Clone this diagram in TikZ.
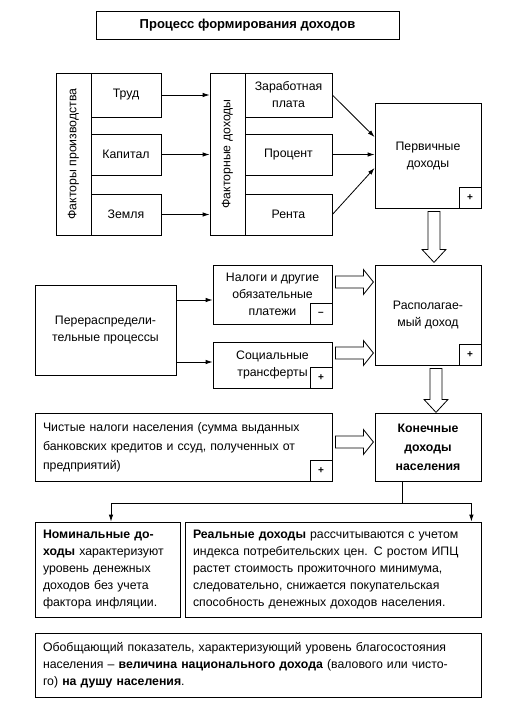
\documentclass[tikz,border=0pt]{standalone}
\usepackage{fontspec}
\setmainfont{Liberation Sans}
\usetikzlibrary{arrows.meta,calc}

\tikzset{
    pics/hdown/.style={code={
        \draw[hollow] (-6,0) -- (-6,#1-13) -- (-12,#1-13) -- (0,#1) -- (12,#1-13) -- (6,#1-13) -- (6,0) -- cycle;
    }},
    pics/hright/.style={code={
        \draw[hollow] (0,-6) -- (28,-6) -- (28,-12.5) -- (38,0) -- (28,12.5) -- (28,6) -- (0,6) -- cycle;
    }}
}

\begin{document}
\begin{tikzpicture}[x=1pt, y=-1pt,
        box/.style={draw, line width=0.8pt, align=center, inner sep=2pt, font=\fontsize{12.3}{17}\selectfont},
        txtbox/.style={box, align=left, inner xsep=8pt},
        sign/.style={draw, line width=0.8pt, minimum width=22pt, minimum height=21pt, inner sep=0pt, font=\bfseries},
        arr/.style={-{Latex[length=7pt,width=4.5pt]}, line width=0.8pt},
        hollow/.style={draw, fill=white, line width=0.8pt}]
    \useasboundingbox (0,0) rectangle (517,705);

    \node[box, minimum width=303pt, minimum height=28pt, font=\fontsize{13}{17}\selectfont] (title) at (247.5,25) {\textbf{Процесс формирования доходов}};

    % factors of production
    \node[box, minimum width=35pt, minimum height=162pt] (fp) at (73.5,154) {\rotatebox{90}{Факторы производства}};
    \node[box, minimum width=70pt, minimum height=44pt] (trud) at (126,95) {Труд};
    \node[box, minimum width=70pt, minimum height=41pt] (kapital) at (126,154.5) {Капитал};
    \node[box, minimum width=70pt, minimum height=41pt] (zemlya) at (126,214.5) {Земля};

    % factor incomes
    \node[box, minimum width=35pt, minimum height=162pt] (fd) at (227.5,154) {\rotatebox{90}{Факторные доходы}};
    \node[box, minimum width=87pt, minimum height=44pt] (zp) at (288.5,95) {Заработная\\плата};
    \node[box, minimum width=87pt, minimum height=41pt] (proc) at (288.5,154.5) {Процент};
    \node[box, minimum width=87pt, minimum height=41pt] (renta) at (288.5,214.5) {Рента};

    \node[box, minimum width=106pt, minimum height=105pt] (perv) at (428,155.5) {Первичные\\доходы};
    \node[sign, anchor=south east] (pervplus) at (perv.south east) {+};

    \draw[arr] (trud) -- (fd.west |- trud);
    \draw[arr] (kapital) -- (fd.west |- kapital);
    \draw[arr] (zemlya) -- (fd.west |- zemlya);
    \draw[arr] (zp.east) -- ($(perv.west)+(0,-18.5)$);
    \draw[arr] (proc.east) -- (perv.west |- proc.east);
    \draw[arr] (renta.east) -- ($(perv.west)+(0,12.5)$);

    % redistribution
    \node[box, minimum width=141pt, minimum height=90pt] (pererasp) at (105.5,330) {Перераспредели-\\тельные процессы};
    \node[box, minimum width=119pt, minimum height=59pt] (nalogi) at (272.5,294.5) {Налоги и другие\\обязательные\\платежи};
    \node[sign, anchor=south east] (nalogiminus) at (nalogi.south east) {–};
    \node[box, minimum width=119pt, minimum height=46pt] (soc) at (272.5,365) {Социальные\\трансферты};
    \node[sign, anchor=south east] (socplus) at (soc.south east) {+};
    \node[box, minimum width=106pt, minimum height=100pt] (rasp) at (428,315) {Располагае-\\мый доход};
    \node[sign, anchor=south east] (raspplus) at (rasp.south east) {+};

    \coordinate (n1) at ([yshift=-5.5pt]nalogi.west);
    \coordinate (s1) at ([yshift=3pt]soc.west);
    \draw[arr] (pererasp.east |- n1) -- (n1);
    \draw[arr] (pererasp.east |- s1) -- (s1);

    \pic at ($(perv.south)+(6,3)$) {hdown=51};
    \pic at ($(nalogi.east)+(3,-12.5)$) {hright};
    \pic at ($(soc.east)+(3,-12)$) {hright};
    \pic at ($(rasp.south)+(8,3)$) {hdown=44};

    % final incomes
    \node[txtbox, text width=281pt, minimum height=68pt, font=\fontsize{12.3}{19}\selectfont] (chist) at (183.5,447) {Чистые налоги населения (сумма выданных\\банковских кредитов и ссуд, полученных от\\предприятий)};
    \node[sign, anchor=south east] (chistplus) at (chist.south east) {+};
    \node[box, minimum width=106pt, minimum height=68pt, font=\fontsize{12.3}{19}\selectfont] (konech) at (428,447) {\textbf{Конечные}\\\textbf{доходы}\\\textbf{населения}};
    \pic at ($(chist.east)+(3,-5)$) {hright};

    \draw[line width=0.8pt] ([xshift=-26pt]konech.south) -- ++(0,22) coordinate (split);

    \node[txtbox, text width=129pt, minimum height=95pt] (nomin) at (107.5,569.5) {\textbf{Номинальные до-}\\\textbf{ходы} характеризуют\\уровень денежных\\доходов без учета\\фактора инфляции.};
    \node[txtbox, text width=280pt, minimum height=95pt] (real) at (333,569.5) {\textbf{Реальные доходы} рассчитываются с учетом\\индекса потребительских цен. С ростом ИПЦ\\растет стоимость прожиточного минимума,\\следовательно, снижается покупательская\\способность денежных доходов населения.};

    \draw[arr] (split) -| ([xshift=3.5pt]nomin.north);
    \draw[arr] (split) -| ([xshift=-10pt]real.north east);

    \node[txtbox, text width=430pt, minimum height=64pt] (obob) at (258,665) {Обобщающий показатель, характеризующий уровень благосостояния\\населения – \textbf{величина национального дохода} (валового или чисто-\\го) \textbf{на душу населения}.};
\end{tikzpicture}
\end{document}
